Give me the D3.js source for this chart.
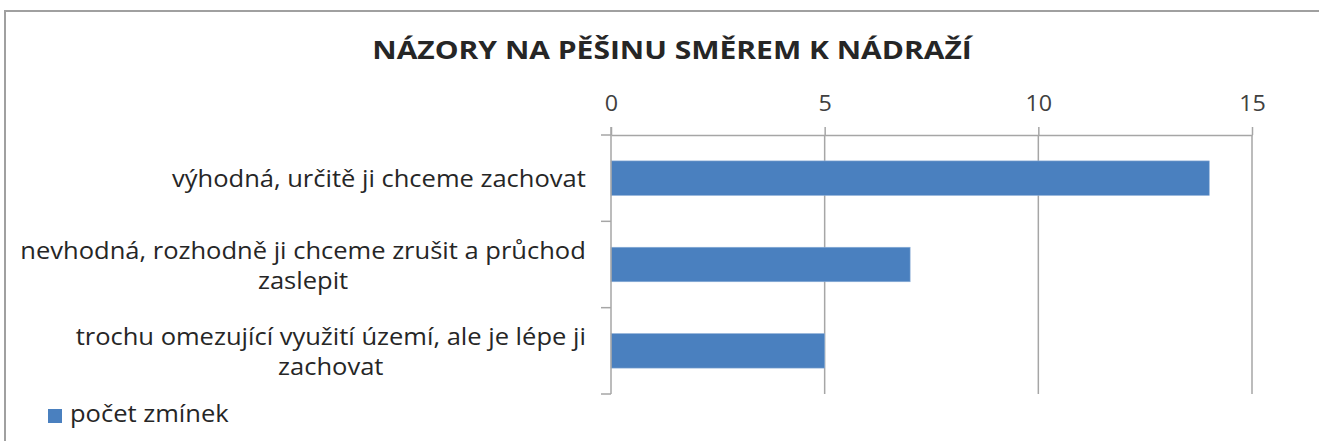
<!DOCTYPE html>
<html>
<head>
<meta charset="utf-8">
<script src="https://cdn.jsdelivr.net/npm/d3@7"></script>
<style>
  html, body { margin: 0; padding: 0; background: #fff; }
  svg { display: block; }
  text { font-family: "Open Sans", "Noto Sans", sans-serif; }
</style>
</head>
<body>
<svg id="chart" width="1319" height="441"></svg>
<script>
// Chart data
const titleText = "NÁZORY NA PĚŠINU SMĚREM K NÁDRAŽÍ";
const categories = [
  ["výhodná, určitě ji chceme zachovat"],
  ["nevhodná, rozhodně ji chceme zrušit a průchod", "zaslepit"],
  ["trochu omezující využití území, ale je lépe ji", "zachovat"]
];
const values = [14, 7, 5];
const tickValues = [0, 5, 10, 15];
const seriesName = "počet zmínek";

const svg = d3.select("#chart");
const W = 1319, H = 441;

const gridColor = "#a6a6a6";
const barColor = "#4a80bf";
const textColor = "#262626";
const stretch = 1.11;   // horizontal widening of the label face

// Outer frame of the chart area
svg.append("rect")
  .attr("x", 5).attr("y", 11)
  .attr("width", W + 20).attr("height", H + 20)
  .attr("fill", "#fff")
  .attr("stroke", "#a0a0a0").attr("stroke-width", 2);

const plot = { left: 611, right: 1252, top: 135, bottom: 394 };

const x = d3.scaleLinear().domain([0, 15]).range([plot.left, plot.right]);
const y = d3.scaleBand().domain(d3.range(categories.length)).range([plot.top, plot.bottom]).padding(0);

// Title
svg.append("g")
  .attr("transform", "translate(672,58.5) scale(1.2,1)")
  .append("text")
  .attr("text-anchor", "middle")
  .attr("font-size", 25).attr("font-weight", 700)
  .attr("fill", textColor)
  .text(titleText);

// Vertical gridlines
svg.append("g")
  .selectAll("line")
  .data(tickValues.filter(v => v > 0))
  .join("line")
  .attr("x1", d => x(d)).attr("x2", d => x(d))
  .attr("y1", plot.top).attr("y2", plot.bottom)
  .attr("stroke", gridColor).attr("stroke-width", 1.5);

// Top value axis
const xAxis = svg.append("g")
  .attr("transform", `translate(0,${plot.top})`)
  .call(d3.axisTop(x).tickValues(tickValues).tickSize(8).tickPadding(0).tickSizeOuter(0));
xAxis.select(".domain").attr("stroke", gridColor).attr("stroke-width", 1.5);
xAxis.selectAll(".tick line").attr("stroke", gridColor).attr("stroke-width", 1.5);
xAxis.selectAll(".tick text")
  .attr("y", 0).attr("dy", 0)
  .attr("transform", `translate(0,-24) scale(${stretch},1)`)
  .attr("font-size", 21).attr("fill", "#404040")
  .style("font-family", "'Open Sans', sans-serif");

// Bars
svg.append("g")
  .selectAll("rect")
  .data(values)
  .join("rect")
  .attr("x", x(0))
  .attr("y", (d, i) => y(i) + y.bandwidth() * 0.3)
  .attr("width", d => x(d) - x(0))
  .attr("height", y.bandwidth() * 0.4)
  .attr("fill", barColor)
  .attr("stroke", "#8fb0d8").attr("stroke-width", 0.6);

// Category axis line with boundary ticks
const catAxis = svg.append("g");
catAxis.append("line")
  .attr("x1", plot.left).attr("x2", plot.left)
  .attr("y1", plot.top - 8).attr("y2", plot.bottom)
  .attr("stroke", gridColor).attr("stroke-width", 1.5);
catAxis.selectAll("line.tick")
  .data(d3.range(categories.length + 1))
  .join("line")
  .attr("class", "tick")
  .attr("x1", plot.left - 10).attr("x2", plot.left)
  .attr("y1", i => i < categories.length ? y(i) : plot.bottom)
  .attr("y2", i => i < categories.length ? y(i) : plot.bottom)
  .attr("stroke", gridColor).attr("stroke-width", 1.5);

// Category labels: wrapped lines centred on their block, block right-aligned
const labelRight = 586;
const lineGap = 30;
categories.forEach((lines, i) => {
  const cy = y(i) + y.bandwidth() / 2;
  const g = svg.append("g");
  const texts = g.selectAll("text")
    .data(lines)
    .join("text")
    .attr("font-size", 23)
    .attr("fill", textColor)
    .attr("text-anchor", "middle")
    .text(d => d);
  const maxW = d3.max(texts.nodes(), n => n.getComputedTextLength()) * stretch;
  const cx = labelRight - maxW / 2;
  texts.attr("transform", (d, k) =>
    `translate(${cx},${cy + (k - (lines.length - 1) / 2) * lineGap + 9}) scale(${stretch},1)`);
});

// Legend
const legend = svg.append("g").attr("transform", "translate(48,409)");
legend.append("rect").attr("width", 14).attr("height", 14).attr("fill", barColor);
legend.append("text")
  .attr("transform", `translate(22,13) scale(${stretch},1)`)
  .attr("font-size", 23).attr("fill", textColor)
  .text(seriesName);
</script>
</body>
</html>
